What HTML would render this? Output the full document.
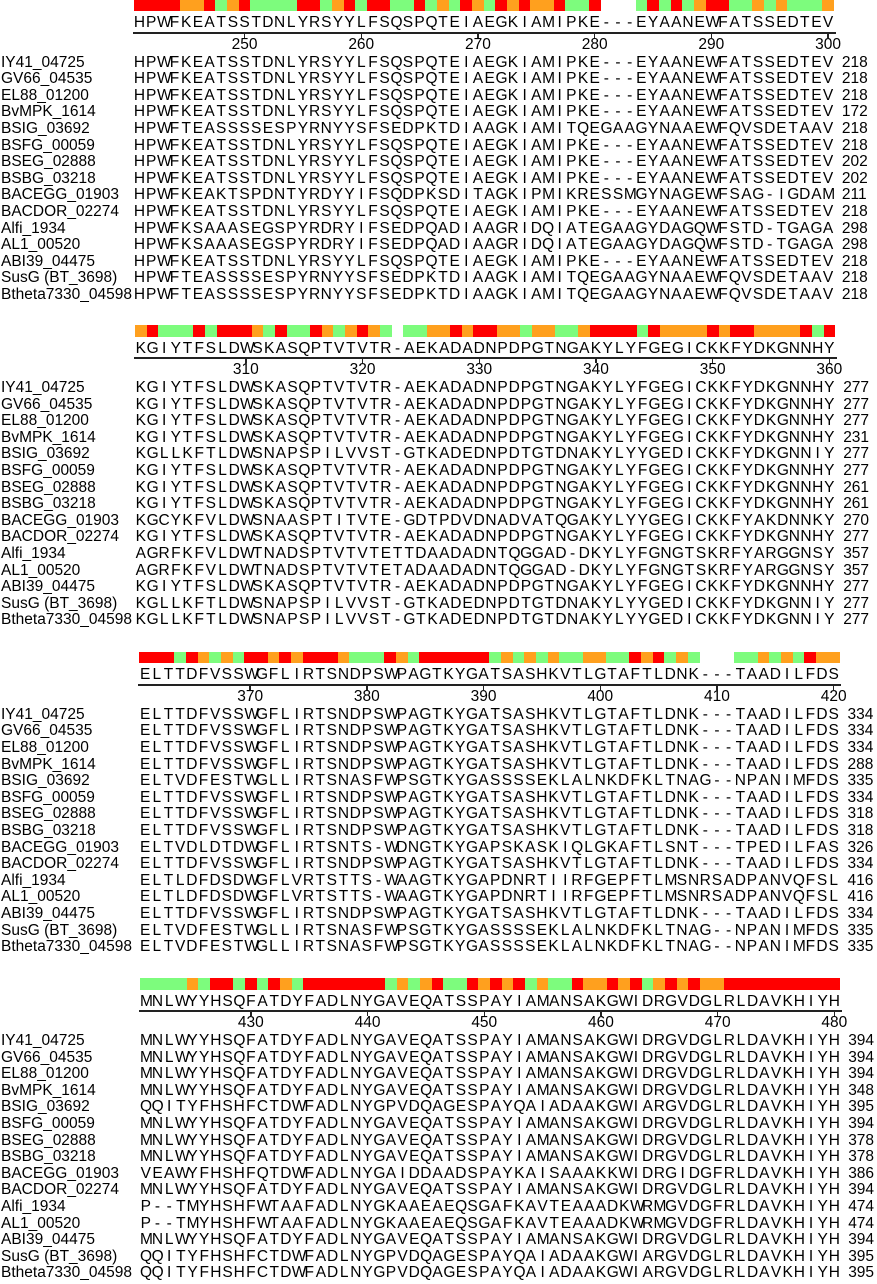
<!DOCTYPE html>
<html>
<head>
<meta charset="utf-8">
<style>
  html,body{margin:0;padding:0;background:#fff;}
  #root{position:relative;width:877px;height:1284px;overflow:hidden;font-family:"Liberation Sans",Arial,sans-serif;font-size:15.5px;color:#000;}
  .t{position:absolute;white-space:pre;line-height:16px;}
  .c{position:absolute;width:11.67px;text-align:center;line-height:16px;}
  .bar{position:absolute;height:11.7px;}
  .rl{position:absolute;height:2px;background:#222;}
  .tk{position:absolute;width:1.5px;height:5px;background:#222;}
</style>
</head>
<body>
<div id="root"></div>
<script>
// ---- data ----
const names = ["IY41_04725","GV66_04535","EL88_01200","BvMPK_1614","BSIG_03692","BSFG_00059","BSEG_02888","BSBG_03218","BACEGG_01903","BACDOR_02274","Alfi_1934","AL1_00520","ABI39_04475","SusG (BT_3698)","Btheta7330_04598"];
const startPos = [241, 301, 361, 421];
const consensus = [
 "HPWFKEATSSTDNLYRSYYLFSQSPQTEIAEGKIAMIPKE---EYAANEWFATSSEDTEV",
 "KGIYTFSLDWSKASQPTVTVTR-AEKADADNPDPGTNGAKYLYFGEGICKKFYDKGNNHY",
 "ELTTDFVSSWGFLIRTSNDPSWPAGTKYGATSASHKVTLGTAFTLDNK---TAADILFDS",
 "MNLWYYHSQFATDYFADLNYGAVEQATSSPAYIAMANSAKGWIDRGVDGLRLDAVKHIYH"
];
const barColors = [
 "RRRROORGORGGGGRRGORGRRGGRGOGROGROROORGGR___GRGRGORRGGOGOGGGO",
 "ORGGGRGRRROGRGGROGOROG_GGOORORROOGOOGGORRRRGROOOORORROOOORGR",
 "RRRGROGOGRRORORRROGGGROGRRRRRRGOGOGOGGOOGGRORGOG___GGOGOGROO",
 "GGGGOGRRGRGROGRRRRRRRGOGORGGRORORGOGGROORORGOROROORRRRRRRRRR"
];
const s1 = "HPWFKEATSSTDNLYRSYYLFSQSPQTEIAEGKIAMIPKE---EYAANEWFATSSEDTEV";
const s1b = "HPWFTEASSSSESPYRNYYSFSEDPKTDIAAGKIAMITQEGAAGYNAAEWFQVSDETAAV";
const s1e = "HPWFKEAKTSPDNTYRDYYIFSQDPKSDITAGKIPMIKRESSMGYNAGEWFSAG-IGDAM";
const s1a = "HPWFKSAAASEGSPYRDRYIFSEDPQADIAAGRIDQIATEGAAGYDAGQWFSTD-TGAGA";
const s2 = "KGIYTFSLDWSKASQPTVTVTR-AEKADADNPDPGTNGAKYLYFGEGICKKFYDKGNNHY";
const s2b = "KGLLKFTLDWSNAPSPILVVST-GTKADEDNPDTGTDNAKYLYYGEDICKKFYDKGNNIY";
const s2e = "KGCYKFVLDWSNAASPTITVTE-GDTPDVDNADVATQGAKYLYYGEGICKKFYAKDNNKY";
const s2a = "AGRFKFVLDWTNADSPTVTVTETTDAADADNTQGGAD-DKYLYFGNGTSKRFYARGGNSY";
const s2l = "AGRFKFVLDWTNADSPTVTVTETADAADADNTQGGAD-DKYLYFGNGTSKRFYARGGNSY";
const s3 = "ELTTDFVSSWGFLIRTSNDPSWPAGTKYGATSASHKVTLGTAFTLDNK---TAADILFDS";
const s3b = "ELTVDFESTWGLLIRTSNASFWPSGTKYGASSSSEKLALNKDFKLTNAG--NPANIMFDS";
const s3e = "ELTVDLDTDWGFLIRTSNTS-WDNGTKYGAPSKASKIQLGKAFTLSNT---TPEDILFAS";
const s3a = "ELTLDFDSDWGFLVRTSTTS-WAAGTKYGAPDNRTIIRFGEPFTLMSNRSADPANVQFSL";
const s4 = "MNLWYYHSQFATDYFADLNYGAVEQATSSPAYIAMANSAKGWIDRGVDGLRLDAVKHIYH";
const s4b = "QQITYFHSHFCTDWFADLNYGPVDQAGESPAYQAIADAAKGWIARGVDGLRLDAVKHIYH";
const s4e = "VEAWYFHSHFQTDWFADLNYGAIDDAADSPAYKAISAAAKKWIDRGIDGFRLDAVKHIYH";
const s4a = "P--TMYHSHFWTAAFADLNYGKAAEAEQSGAFKAVTEAAADKWRMGVDGFRLDAVKHIYH";
const seqs = [
 [s1,s1,s1,s1,s1b,s1,s1,s1,s1e,s1,s1a,s1a,s1,s1b,s1b],
 [s2,s2,s2,s2,s2b,s2,s2,s2,s2e,s2,s2a,s2l,s2,s2b,s2b],
 [s3,s3,s3,s3,s3b,s3,s3,s3,s3e,s3,s3a,s3a,s3,s3b,s3b],
 [s4,s4,s4,s4,s4b,s4,s4,s4,s4e,s4,s4a,s4a,s4,s4b,s4b]
];
const endNums = [
 [218,218,218,172,218,218,202,202,211,218,298,298,218,218,218],
 [277,277,277,231,277,277,261,261,270,277,357,357,277,277,277],
 [334,334,334,288,335,334,318,318,326,334,416,416,334,335,335],
 [394,394,394,348,395,394,378,378,386,394,474,474,394,395,395]
];
// ---- layout ----
const root = document.getElementById('root');
const CW = 11.67;
const blockLeft = [133.7, 135, 139.3, 140];
const blockTop = [-0.5, 325, 651.7, 978];
const colorMap = {R:"#ff0000", O:"#ffa01e", G:"#7dfc7d"};
function xCol(b, i){ return blockLeft[b] + i*CW; }

for (let b=0; b<4; b++){
  const T = blockTop[b];
  const blk = document.createElement('div');
  
  
  root.appendChild(blk);
  const cols = barColors[b];
  for (let i=0; i<60; i++){
    const ch = cols[i];
    if (!colorMap[ch]) continue;
    const r = document.createElement('div');
    r.className = 'bar';
    
    
    r.style.left = xCol(b,i) + 'px';
    r.style.width = (CW+0.3) + 'px';
    r.style.top = T + 'px';
    r.style.background = colorMap[ch];
    blk.appendChild(r);
  }
  const cons = document.createElement('div');
  
  
  blk.appendChild(cons);
  for (let i=0; i<60; i++){
    const c = document.createElement('span');
    c.className = 'c';
    c.style.left = xCol(b,i) + 'px';
    c.style.top = (T+15.5) + 'px';
    c.textContent = consensus[b][i];
    cons.appendChild(c);
  }
  const rl = document.createElement('div');
  rl.className = 'rl';
  
  
  rl.style.left = (blockLeft[b]-1) + 'px';
  rl.style.width = (60*CW+3) + 'px';
  rl.style.top = (T+32) + 'px';
  blk.appendChild(rl);
  for (let i=0; i<60; i++){
    const pos = startPos[b] + i;
    if (pos % 10 !== 0) continue;
    const cx = xCol(b,i) + CW/2;
    const tk = document.createElement('div');
    tk.className = 'tk';
    
    
    tk.style.left = (cx-0.75) + 'px';
    tk.style.top = (T+33) + 'px';
    blk.appendChild(tk);
    const lb = document.createElement('div');
    lb.className = 't';
    
    
    lb.style.left = (cx-20) + 'px';
    lb.style.width = '40px';
    lb.style.textAlign = 'center';
    lb.style.top = (T+37) + 'px';
    lb.textContent = String(pos);
    blk.appendChild(lb);
  }
  for (let r=0; r<names.length; r++){
    const y = T + 55 + r*16.6;
    const nm = document.createElement('div');
    nm.className = 't';
    
    
    nm.style.left = '1px';
    nm.style.top = y + 'px';
    nm.textContent = names[r];
    blk.appendChild(nm);
    const row = document.createElement('div');
    
    
    blk.appendChild(row);
    const s = seqs[b][r];
    for (let i=0; i<60 && i<s.length; i++){
      const c = document.createElement('span');
      c.className = 'c';
      c.style.left = xCol(b,i) + 'px';
      c.style.top = y + 'px';
      c.textContent = s[i];
      row.appendChild(c);
    }
    const en = document.createElement('div');
    en.className = 't';
    
    
    en.style.left = (blockLeft[b] + 60*CW + 8) + 'px';
    en.style.top = y + 'px';
    en.textContent = String(endNums[b][r]);
    blk.appendChild(en);
  }
}
</script>
</body>
</html>
